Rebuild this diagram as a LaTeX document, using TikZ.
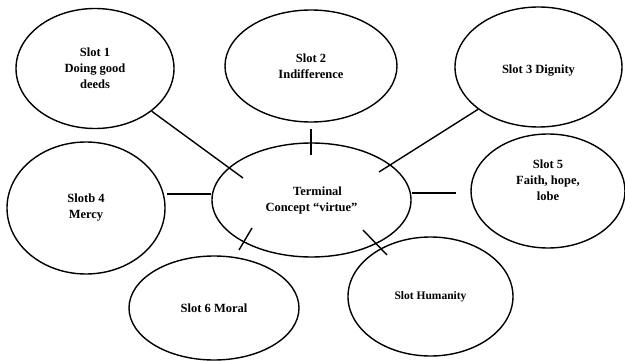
\documentclass[tikz,border=0pt]{standalone}
\usepackage{fontspec}
\setmainfont{Liberation Serif}
\usetikzlibrary{shapes.geometric}

\tikzset{
 slot/.style={draw, ellipse, line width=1.4pt, inner sep=0pt, align=center, font=\bfseries\fontsize{12.5}{16}\selectfont},
 slottext/.style={align=center, font=\bfseries\fontsize{12.5}{16}\selectfont},
 link/.style={line width=1.4pt}
}

\begin{document}
\begin{tikzpicture}[x=1pt,y=-1pt]
 \useasboundingbox (0,0) rectangle (625,361);
 \node[slot, minimum width=158, minimum height=120] (s1) at (95,68.5) {Slot 1\\Doing good\\deeds};
 \node[slot, minimum width=172, minimum height=112] (s2) at (311,66) {Slot 2\\Indifference};
 \node[slot, minimum width=167, minimum height=120,
  label={[slottext, yshift=-4pt]center:Slot 3 Dignity}] (s3) at (538.5,67) {};
 \node[slot, minimum width=158, minimum height=132] (s4) at (86,208) {Slotb 4\\Mercy};
 \node[slot, minimum width=199, minimum height=114] (term) at (311.5,200) {\hspace*{12pt}Terminal\\Concept “virtue”};
 \node[slot, minimum width=154, minimum height=114,
  label={[slottext, yshift=11pt]center:{Slot 5\\Faith, hope,\\lobe}}] (s5) at (548,191) {};
 \node[slot, minimum width=170, minimum height=104] (s6) at (214,308) {Slot 6 Moral};
 \node[slot, minimum width=165, minimum height=119, font=\bfseries\fontsize{11.5}{14}\selectfont] (hum) at (430.5,296.5) {Slot Humanity};

 \coordinate (t1) at (243,178);
 \coordinate (t2) at (311,155);
 \coordinate (t3) at (379,172);
 \coordinate (t4) at (167,194);
 \coordinate (t5) at (456,193);
 \coordinate (a6) at (252,228);
 \coordinate (b6) at (239,250);
 \coordinate (a7) at (363,230);
 \coordinate (b7) at (387,255);

 \draw[link] (s1.-37.5) -- (t1);
 \draw[link, shorten <=6pt] (s2.south) -- (t2);
 \draw[link] (s3.215) -- (t3);
 \draw[link] (term.west |- t4) -- (t4);
 \draw[link] (term.east |- t5) -- (t5);
 \draw[link] (a6) -- (b6);
 \draw[link] (a7) -- (b7);
\end{tikzpicture}
\end{document}
